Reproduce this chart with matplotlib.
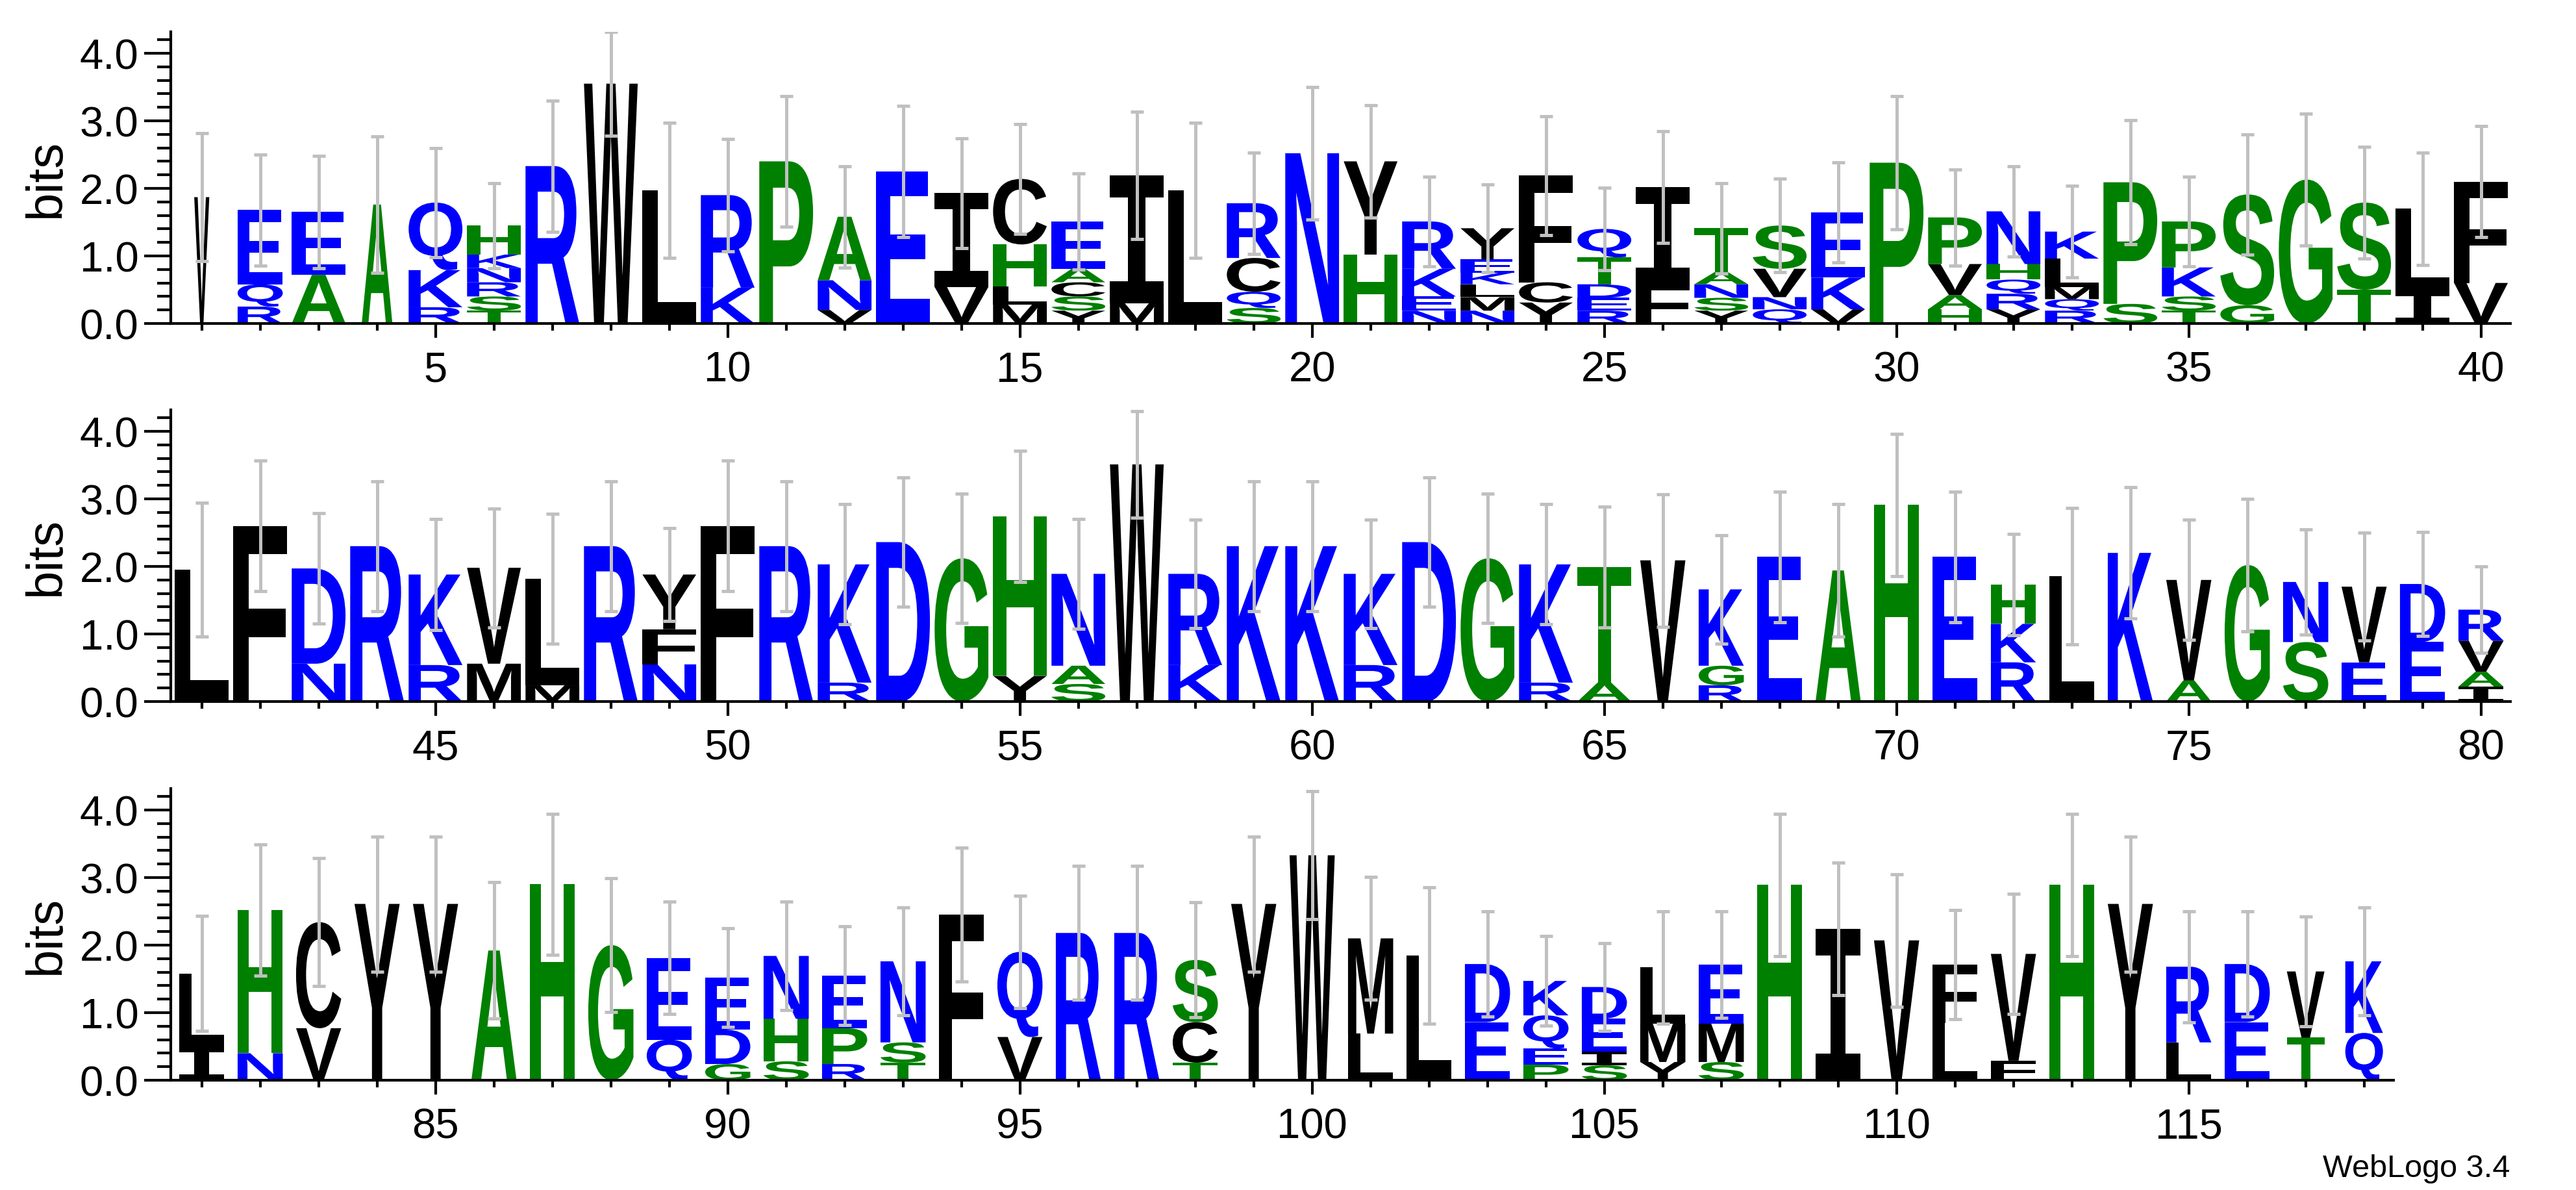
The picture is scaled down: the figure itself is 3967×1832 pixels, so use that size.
import matplotlib
matplotlib.use("Agg")
import matplotlib.pyplot as plt
from matplotlib.textpath import TextPath
from matplotlib.patches import PathPatch
from matplotlib.font_manager import FontProperties
from matplotlib.transforms import Affine2D
from matplotlib.ticker import MultipleLocator, FixedLocator

plt.rcParams['font.family'] = ['Liberation Sans', 'DejaVu Sans']

# stacks read bottom -> top, heights in bits
stack_letters = [
    "V", "RQE", "AE", "A", "RKQ", "TSRNKH", "R", "W", "L", "KR",
    "P", "VNA", "E", "VI", "MLHC", "YSCAE", "MI", "L", "SQCR", "N",
    "HY", "NEKR", "NMLKEY", "YCF", "REDTQ", "FI", "YSNAT", "QNVS", "VKE", "P",
    "HAVP", "YRQHN", "RQMLK", "SP", "TSKP", "GS", "G", "TS", "IL", "VF",
    "L", "F", "ND", "R", "RK", "MV", "ML", "R", "NFY", "F",
    "R", "RK", "D", "G", "YH", "SAN", "W", "KR", "K", "K",
    "RK", "D", "G", "RK", "AT", "V", "RGK", "E", "A", "H",
    "E", "RKH", "L", "K", "AV", "G", "SN", "EV", "ED", "IAVR",
    "IL", "NH", "VC", "Y", "Y", "A", "H", "G", "QE", "GDE",
    "SHN", "RPE", "TSN", "F", "VQ", "R", "R", "TCS", "Y", "W",
    "LM", "L", "ED", "PEQK", "SIED", "YML", "SME", "H", "I", "V",
    "LF", "FV", "H", "Y", "LR", "ED", "TV", "QK",
]
stack_heights = [
    [1.87], [0.25, 0.33, 1.10], [0.72, 0.93], [1.76], [0.24, 0.55, 1.00],
    [0.19, 0.21, 0.21, 0.21, 0.20, 0.43], [2.33], [3.55], [1.97], [0.53, 1.37],
    [2.40], [0.20, 0.44, 0.94], [2.25], [0.54, 1.39], [0.28, 0.27, 0.62, 0.97],
    [0.19, 0.21, 0.21, 0.20, 0.70], [0.30, 1.89], [1.97], [0.23, 0.24, 0.50, 0.81], [2.52],
    [1.02, 1.38], [0.19, 0.21, 0.41, 0.70], [0.19, 0.20, 0.19, 0.17, 0.20, 0.46],
    [0.31, 0.30, 1.58], [0.19, 0.19, 0.20, 0.40, 0.42], [0.58, 1.44],
    [0.19, 0.19, 0.20, 0.18, 0.65], [0.21, 0.18, 0.42, 0.64], [0.21, 0.47, 0.96], [2.38],
    [0.21, 0.21, 0.46, 0.69], [0.21, 0.23, 0.21, 0.23, 0.78], [0.19, 0.17, 0.18, 0.42, 0.40],
    [0.29, 1.80], [0.19, 0.21, 0.43, 0.68], [0.27, 1.64], [2.13], [0.50, 1.29],
    [0.49, 1.21], [0.60, 1.50],
    [1.95], [2.60], [0.56, 1.41], [2.30], [0.54, 1.34], [0.56, 1.42], [0.24, 1.58],
    [2.30], [0.55, 0.52, 0.81], [2.60],
    [2.30], [0.28, 1.75], [2.36], [2.12], [0.38, 2.36], [0.26, 0.27, 1.36], [3.51],
    [0.54, 1.35], [2.30], [2.30],
    [0.54, 1.35], [2.36], [2.12], [0.28, 1.75], [0.28, 1.71], [2.09], [0.24, 0.29, 1.13],
    [2.14], [1.94], [2.91],
    [2.14], [0.58, 0.57, 0.58], [1.86], [2.20], [0.31, 1.49], [2.02], [0.88, 0.89],
    [0.58, 1.12], [0.88, 0.86], [0.22, 0.22, 0.46, 0.46],
    [0.50, 1.08], [0.40, 2.12], [0.77, 1.57], [2.61], [2.61], [1.92], [2.90], [2.00],
    [0.60, 1.21], [0.24, 0.51, 0.77],
    [0.28, 0.63, 0.93], [0.24, 0.53, 0.78], [0.26, 0.30, 1.20], [2.45], [0.64, 1.26],
    [2.18], [2.18], [0.26, 0.60, 0.92], [2.61], [3.33],
    [0.69, 1.41], [1.85], [0.86, 0.86], [0.23, 0.24, 0.49, 0.51], [0.22, 0.20, 0.49, 0.47],
    [0.27, 0.57, 0.83], [0.27, 0.57, 0.87], [2.89], [2.24], [2.07],
    [0.85, 0.86], [0.29, 1.58], [2.89], [2.61], [0.56, 1.12], [0.86, 0.86], [0.63, 0.98],
    [0.70, 1.06],
]
stack_errors = [
    0.95, 0.82, 0.83, 1.01, 0.81, 0.63, 0.97, 0.77, 1.00, 0.83,
    0.97, 0.75, 0.97, 0.81, 0.81, 0.71, 0.94, 1.00, 0.75, 0.98,
    0.83, 0.66, 0.65, 0.88, 0.61, 0.83, 0.67, 0.69, 0.74, 0.99,
    0.71, 0.67, 0.68, 0.92, 0.66, 0.89, 0.98, 0.83, 0.83, 0.82,
    0.99, 0.97, 0.82, 0.96, 0.82, 0.88, 0.96, 0.96, 0.69, 0.97,
    0.96, 0.89, 0.96, 0.96, 0.97, 0.81, 0.79, 0.80, 0.96, 0.96,
    0.80, 0.96, 0.96, 0.89, 0.89, 0.98, 0.80, 0.97, 0.98, 1.05,
    0.97, 0.75, 1.01, 0.97, 0.89, 0.98, 0.78, 0.80, 0.77, 0.64,
    0.85, 0.97, 0.95, 1.00, 1.00, 1.01, 1.04, 0.99, 0.83, 0.73,
    0.80, 0.73, 0.80, 0.99, 0.83, 0.99, 0.99, 0.85, 1.00, 0.95,
    0.91, 1.01, 0.78, 0.66, 0.65, 0.83, 0.79, 1.05, 0.98, 0.98,
    0.81, 0.89, 1.05, 1.00, 0.82, 0.78, 0.81, 0.80,
]
# fraction of non-gap residues (stack width)
stack_widths = [0.28, 0.84, 1.0, 0.57] + [1.0] * 61 + [0.84] * 51 + [0.70, 0.70]

colors = {}
for c in "RKDENQ":
    colors[c] = "#0000ff"
for c in "SGHTAP":
    colors[c] = "#008000"
for c in "YVMCLFIW":
    colors[c] = "#000000"

fp_letter = FontProperties(family="Liberation Sans", weight="bold")
fp_i = FontProperties(family="DejaVu Sans Mono", weight="bold")


def draw_letter(ax, ch, x, y0, w, h):
    tp = TextPath((0, 0), ch, size=1, prop=fp_i if ch == "I" else fp_letter)
    bb = tp.get_extents()
    t = (Affine2D().translate(-bb.x0, -bb.y0)
         .scale(w / bb.width, h / bb.height)
         .translate(x - w / 2, y0))
    ax.add_patch(PathPatch(t.transform_path(tp), fc=colors[ch], ec="none", lw=0, zorder=2))


W, H = 3967, 1833
fig = plt.figure(figsize=(W / 100, H / 100), dpi=100)

col_px = 90.0
bit_px = 104.0
rows = [(1, 40, 499), (41, 80, 1081), (81, 118, 1664)]

for first, last, base_px in rows:
    x0, x1 = first - 0.53, last + 0.5
    ax = fig.add_axes([263 / W, (H - base_px) / H, (x1 - x0) * col_px / W, 4.32 * bit_px / H])
    ax.set_xlim(x0, x1)
    ax.set_ylim(0, 4.32)

    tops = []
    for pos in range(first, last + 1):
        i = pos - 1
        w = 0.92 * stack_widths[i]
        y = 0.0
        for ch, h in zip(stack_letters[i], stack_heights[i]):
            draw_letter(ax, ch, pos, y, w, h)
            y += h
        tops.append(y)

    xs = list(range(first, last + 1))
    ax.errorbar(xs, tops, yerr=stack_errors[first - 1:last], fmt="none",
                ecolor="#c0c0c0", elinewidth=3.6, capsize=7.4, capthick=3.6, zorder=3)

    for s in ["top", "right"]:
        ax.spines[s].set_visible(False)
    for s in ["left", "bottom"]:
        ax.spines[s].set_linewidth(3)

    ax.yaxis.set_major_locator(MultipleLocator(1.0))
    ax.yaxis.set_minor_locator(MultipleLocator(0.2))
    ax.set_yticklabels([])
    ax.set_yticks([0, 1, 2, 3, 4])
    ax.set_yticklabels(["0.0", "1.0", "2.0", "3.0", "4.0"])
    ax.xaxis.set_major_locator(FixedLocator([p for p in xs if p % 5 == 0]))
    ax.xaxis.set_minor_locator(FixedLocator(xs))
    ax.set_xticklabels([str(p) for p in xs if p % 5 == 0])

    ax.tick_params(axis="y", which="major", length=29.5, width=3, labelsize=47, pad=6)
    ax.tick_params(axis="y", which="minor", length=15, width=3)
    ax.tick_params(axis="x", which="major", length=16, width=3, labelsize=47, pad=14)
    ax.tick_params(axis="x", which="minor", length=8, width=3)

    fig.text(71 / W, (H - base_px + 4.32 * bit_px / 2) / H, "bits", rotation=90,
             ha="center", va="center", fontsize=56)

fig.text(3865 / W, 21 / H, "WebLogo 3.4", ha="right", va="baseline", fontsize=35)

fig.savefig("out.png", dpi=100)
